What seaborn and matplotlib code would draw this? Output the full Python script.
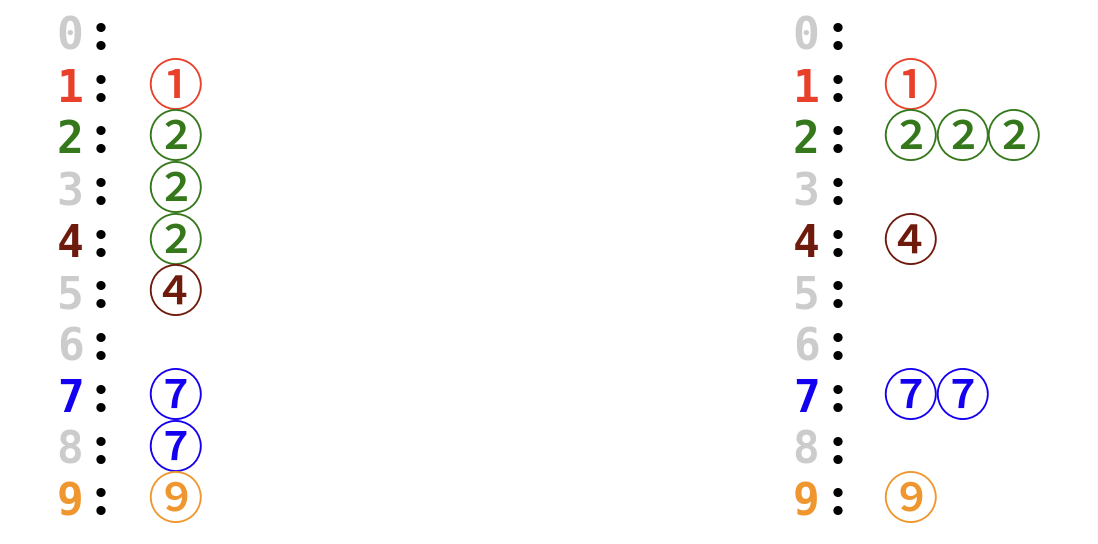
import matplotlib
matplotlib.use("Agg")
import matplotlib.pyplot as plt
import seaborn as sns

# ========================================================================
# DATA: HASH TABLE WITH 10 SLOTS, KEYS INSERTED BY HASH VALUE
# ========================================================================
slots = [0, 1, 2, 3, 4, 5, 6, 7, 8, 9]
# OPEN ADDRESSING (LINEAR PROBING): ONE KEY PER SLOT
probing = [[], [1], [2], [2], [2], [4], [], [7], [7], [9]]
# SEPARATE CHAINING: A LIST OF KEYS PER SLOT
chaining = [[], [1], [2, 2, 2], [], [4], [], [], [7, 7], [], [9]]
# HASH VALUES THAT SOME KEY MAPS TO
hashed = [1, 2, 4, 7, 9]
circled = {1: "\u2460", 2: "\u2461", 4: "\u2463", 7: "\u2466", 9: "\u2468"}

# COLORS
key_col = {1: "#e8402a", 2: "#35781c", 4: "#6e1a0c", 7: "#1400f0", 9: "#f0962e"}
grey = "#cccccc"

# ========================================================================
# FIGURE
# ========================================================================
sns.set_theme(style="white")
plt.rcParams["font.family"] = ["DejaVu Sans"]

fig = plt.figure(figsize=(10.98, 5.44), dpi=100)
ax = fig.add_axes([0, 0, 1, 1])
ax.set_xlim(0, 1098)
ax.set_ylim(544, 0)
ax.axis("off")

# BASELINE OF ROW 0 AND ROW SPACING (PIXELS)
base0, row_step = 50, 51.7
idx_font = dict(family="DejaVu Sans Mono", fontsize=32, fontweight="bold")
colon_font = dict(family="Lato", fontsize=38, fontweight="heavy")
circ_font = dict(family="Noto Sans CJK JP", fontsize=40, fontweight="medium")


def draw_table(x_idx, x_colon, x_key, key_step, entries):
    for s in slots:
        y = base0 + s * row_step
        c = key_col[s] if s in hashed else grey
        ax.text(x_idx, y, str(s), color=c, ha="center", va="baseline", **idx_font)
        ax.text(x_colon, y, ":", color="black", ha="center", va="baseline", **colon_font)
        for j, k in enumerate(entries[s]):
            ax.text(x_key + j * key_step, y + 3, circled[k], color=key_col[k],
                    ha="center", va="baseline", **circ_font)


# LEFT: LINEAR PROBING
draw_table(70, 101, 175, 51.5, probing)
# RIGHT: CHAINING
draw_table(806, 838, 910, 51.5, chaining)

plt.savefig("out.png", dpi=100)
